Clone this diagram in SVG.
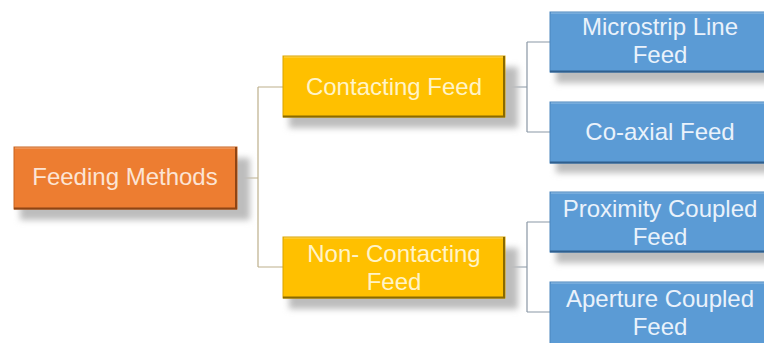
<svg xmlns="http://www.w3.org/2000/svg" width="764" height="343" viewBox="0 0 764 343">
  <style>
    .lbl { font-family: "Liberation Sans", Arial, sans-serif; font-size: 24px; text-anchor: middle; }
    .root rect.body { fill: #ED7D31; stroke: #C9641F; stroke-width: 1; }
    .root text { fill: #FCE4D4; }
    .mid rect.body { fill: #FFC000; stroke: #D9A400; stroke-width: 1; }
    .mid text { fill: #FFF4C8; }
    .leaf rect.body { fill: #5B9BD5; stroke: #4A86BE; stroke-width: 1; }
    .leaf text { fill: #EAF2FB; }
    .shadow { fill: #BDBDBD; filter: url(#soft); }
    .edge-r { stroke-width: 2; }
    .root .edge-r { stroke: #8E4515; }
    .mid .edge-r { stroke: #8A6A00; }
    .leaf .edge-r { stroke: #2F5F8E; }
    .hi { stroke: #ffffff; stroke-opacity: 0.35; stroke-width: 1; }
    .c1 { stroke: #BDB08C; stroke-width: 1.2; fill: none; }
    .c2 { stroke: #8A97A5; stroke-width: 1.2; fill: none; }
  </style>
  <defs>
    <filter id="soft" x="-20%" y="-40%" width="140%" height="180%">
      <feGaussianBlur stdDeviation="3"/>
    </filter>
  </defs>
  <rect width="764" height="343" fill="#ffffff"/>

  <!-- connectors -->
  <g id="connectors">
    <path class="c1" d="M237 178 H258 M258 87 V267 M258 87 H283 M258 267 H283"/>
    <path class="c2" d="M505 87 H527 M527 42 V132 M527 42 H550 M527 132 H550"/>
    <path class="c2" d="M505 267 H527 M527 222 V312 M527 222 H550 M527 312 H550"/>
  </g>

  <!-- root -->
  <g id="feeding-methods" class="root">
    <rect class="shadow" x="20" y="158" width="230" height="62"/>
    <rect class="body" x="14" y="147" width="223" height="62"/>
    <line class="edge-r" x1="236" y1="147" x2="236" y2="209"/>
    <line class="edge-r" x1="14" y1="208.5" x2="237" y2="208.5"/>
    <line class="hi" x1="15" y1="148" x2="235" y2="148"/>
    <text class="lbl" x="125" y="185">Feeding Methods</text>
  </g>

  <!-- level 1 -->
  <g id="contacting-feed" class="mid">
    <rect class="shadow" x="289" y="67" width="229" height="61"/>
    <rect class="body" x="283" y="56" width="222" height="61"/>
    <line class="edge-r" x1="504" y1="56" x2="504" y2="117"/>
    <line class="edge-r" x1="283" y1="116.5" x2="505" y2="116.5"/>
    <line class="hi" x1="284" y1="57" x2="503" y2="57"/>
    <text class="lbl" x="394" y="95">Contacting Feed</text>
  </g>

  <g id="non-contacting-feed" class="mid">
    <rect class="shadow" x="289" y="248" width="229" height="61"/>
    <rect class="body" x="283" y="237" width="222" height="61"/>
    <line class="edge-r" x1="504" y1="237" x2="504" y2="298"/>
    <line class="edge-r" x1="283" y1="297.5" x2="505" y2="297.5"/>
    <line class="hi" x1="284" y1="238" x2="503" y2="238"/>
    <text class="lbl" x="394" y="262">Non- Contacting</text>
    <text class="lbl" x="394" y="290">Feed</text>
  </g>

  <!-- level 2 -->
  <g id="microstrip-line-feed" class="leaf">
    <rect class="shadow" x="556" y="23" width="226" height="60"/>
    <rect class="body" x="550" y="12" width="220" height="60"/>
    <line class="edge-r" x1="550" y1="71.5" x2="770" y2="71.5"/>
    <line class="hi" x1="551" y1="13" x2="770" y2="13"/>
    <text class="lbl" x="660" y="35">Microstrip Line</text>
    <text class="lbl" x="660" y="63">Feed</text>
  </g>

  <g id="co-axial-feed" class="leaf">
    <rect class="shadow" x="556" y="113" width="226" height="60"/>
    <rect class="body" x="550" y="102" width="220" height="61"/>
    <line class="edge-r" x1="550" y1="162.5" x2="770" y2="162.5"/>
    <line class="hi" x1="551" y1="103" x2="770" y2="103"/>
    <text class="lbl" x="660" y="140">Co-axial Feed</text>
  </g>

  <g id="proximity-coupled-feed" class="leaf">
    <rect class="shadow" x="556" y="203" width="226" height="60"/>
    <rect class="body" x="550" y="192" width="220" height="60"/>
    <line class="edge-r" x1="550" y1="251.5" x2="770" y2="251.5"/>
    <line class="hi" x1="551" y1="193" x2="770" y2="193"/>
    <text class="lbl" x="660" y="217">Proximity Coupled</text>
    <text class="lbl" x="660" y="245">Feed</text>
  </g>

  <g id="aperture-coupled-feed" class="leaf">
    <rect class="body" x="550" y="282" width="220" height="62"/>
    <line class="hi" x1="551" y1="283" x2="770" y2="283"/>
    <text class="lbl" x="660" y="307">Aperture Coupled</text>
    <text class="lbl" x="660" y="335">Feed</text>
  </g>
</svg>
